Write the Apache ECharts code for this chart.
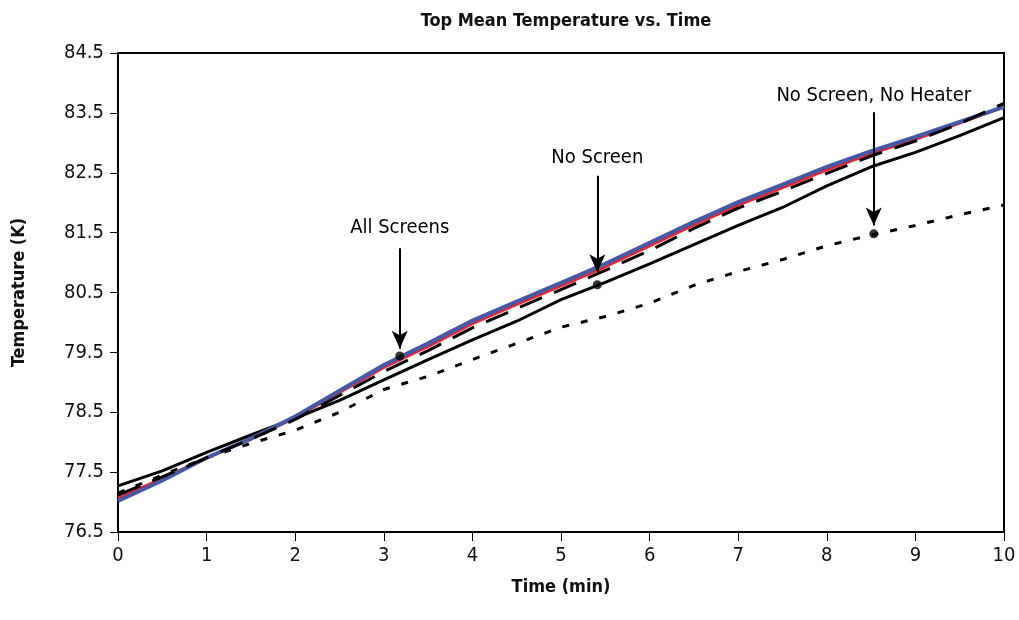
<!DOCTYPE html>
<html><head><meta charset="utf-8">
<script src="https://cdn.jsdelivr.net/npm/echarts@6/dist/echarts.min.js"></script>
<style>html,body{margin:0;padding:0;background:#fff}#c{width:1019px;height:620px}</style>
</head><body><div id="c"></div>
<script>
const times = [0,0.5,1,1.5,2,2.5,3,3.5,4,4.5,5,5.5,6,6.5,7,7.5,8,8.5,9,9.5,10];
const blueVals   = [77.02,77.36,77.74,78.06,78.43,78.86,79.29,79.65,80.03,80.35,80.66,80.98,81.33,81.68,82.01,82.30,82.60,82.86,83.10,83.35,83.60];
const redVals    = [77.07,77.39,77.74,78.05,78.41,78.83,79.25,79.60,79.98,80.30,80.61,80.93,81.28,81.63,81.96,82.25,82.55,82.82,83.06,83.33,83.60];
const dashedVals = [77.12,77.42,77.74,78.05,78.38,78.78,79.18,79.53,79.91,80.23,80.55,80.87,81.20,81.57,81.91,82.19,82.49,82.78,83.03,83.32,83.66];
const solidVals  = [77.27,77.52,77.83,78.12,78.40,78.70,79.04,79.38,79.71,80.02,80.38,80.67,80.98,81.30,81.62,81.92,82.28,82.60,82.84,83.12,83.42];
const dottedVals = [77.15,77.45,77.74,77.98,78.20,78.50,78.88,79.10,79.38,79.65,79.92,80.10,80.32,80.62,80.85,81.05,81.28,81.46,81.62,81.80,81.96];

const annoText = ['All Screens','No Screen','No Screen, No Heater'];
const annoT    = [3.18, 5.41, 8.53];
const annoDot  = [79.44, 80.63, 81.48];
const annoTop  = [81.24, 82.45, 83.51];
const annoTip  = [79.56, 80.84, 81.62];
const annoLabel= [81.58, 82.75, 83.78];

const xTicks = {min:0, max:10, interval:1};
const yTicks = {min:76.5, max:84.5, interval:1};

const FONT = '"Liberation Sans Narrow","DejaVu Sans Condensed","Roboto Condensed",sans-serif';
const pair = v => times.map((t,i)=>[t,v[i]]);

const chart = echarts.init(document.getElementById('c'));
chart.setOption({
  animation:false,
  backgroundColor:'#fff',
  title:{text:'Top Mean Temperature vs. Time', left:561, textAlign:'center', top:7,
    textStyle:{fontFamily:FONT, fontSize:18, fontWeight:'bold', color:'#111'}},
  grid:{left:118, right:15, top:53, bottom:88, show:true, borderColor:'#000', borderWidth:2},
  xAxis:{type:'value', min:xTicks.min, max:xTicks.max, interval:xTicks.interval,
    name:'Time (min)', nameLocation:'middle', nameGap:46,
    nameTextStyle:{fontFamily:FONT, fontSize:18, fontWeight:'bold', color:'#111'},
    axisLine:{lineStyle:{color:'#000', width:2}},
    axisTick:{length:9, lineStyle:{color:'#000', width:1}},
    axisLabel:{fontFamily:FONT, fontSize:20, color:'#111', margin:14},
    splitLine:{show:false}},
  yAxis:{type:'value', min:yTicks.min, max:yTicks.max, interval:yTicks.interval,
    name:'Temperature (K)', nameLocation:'middle', nameGap:90, nameRotate:90,
    nameTextStyle:{fontFamily:FONT, fontSize:18, fontWeight:'bold', color:'#111'},
    axisLine:{lineStyle:{color:'#000', width:2}},
    axisTick:{length:8, lineStyle:{color:'#000', width:1}},
    axisLabel:{fontFamily:FONT, fontSize:20, color:'#111', margin:14,
      formatter:v=>v.toFixed(1)},
    splitLine:{show:false}},
  series:[
    {type:'line', data:pair(solidVals), symbol:'none', lineStyle:{color:'#000', width:3}, z:2},
    {type:'line', data:pair(dottedVals), symbol:'none', lineStyle:{color:'#000', width:3, type:[7,12]}, z:2},
    {type:'line', data:pair(redVals), symbol:'none', lineStyle:{color:'#e8262b', width:3}, z:3},
    {type:'line', data:pair(blueVals), symbol:'none', lineStyle:{color:'#4658a8', width:4}, z:4},
    {type:'line', data:pair(dashedVals), symbol:'none', lineStyle:{color:'#000', width:3, type:[24,13]}, z:5},
    {type:'scatter', data:annoT.map((t,i)=>[t,annoDot[i]]), symbol:'circle', symbolSize:9,
      itemStyle:{color:'#000'}, z:10,
      markLine:{silent:true, symbol:['none','arrow'], symbolSize:[12,18],
        lineStyle:{color:'#000', width:2, type:'solid'}, label:{show:false},
        data:annoT.map((t,i)=>[{coord:[t,annoTop[i]]},{coord:[t,annoTip[i]]}])}},
    {type:'scatter', data:annoT.map((t,i)=>[t,annoLabel[i]]), symbolSize:0, z:10,
      itemStyle:{opacity:1},
      label:{show:true, position:'inside', formatter:p=>annoText[p.dataIndex],
        fontFamily:FONT, fontSize:20, color:'#000', opacity:1}}
  ]
});
</script></body></html>
